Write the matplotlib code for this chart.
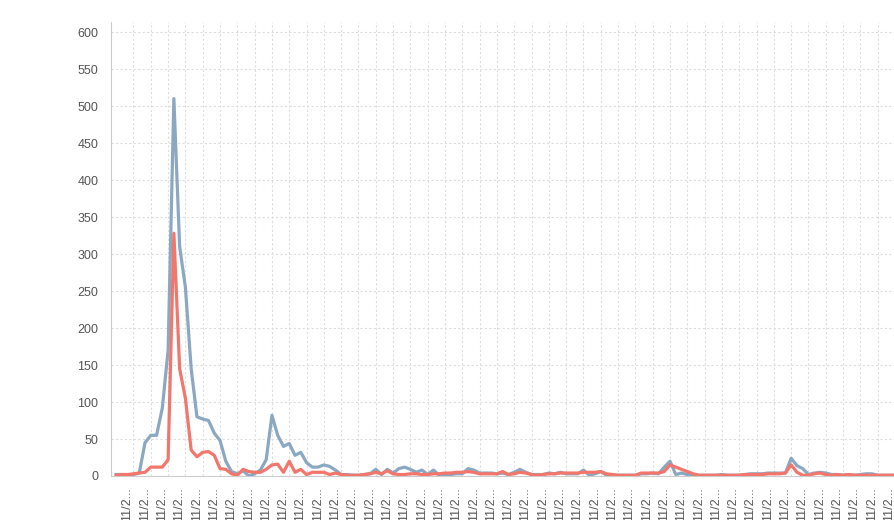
import numpy as np
import matplotlib
matplotlib.use('Agg')
import matplotlib.pyplot as plt

plt.rcParams['font.family'] = ['Liberation Sans', 'DejaVu Sans']

# values, one per point (x = point index)
blueVals = [2, 2, 1, 2, 4, 45, 55, 55, 92, 170,
            510, 310, 255, 145, 80, 77, 75, 58, 48, 20,
            6, 3, 7, 0, 3, 8, 22, 82, 55, 40,
            44, 28, 32, 18, 12, 12, 15, 13, 8, 2,
            2, 1, 1, 2, 3, 9, 2, 9, 4, 10,
            12, 9, 5, 8, 2, 8, 1, 2, 2, 3,
            3, 10, 8, 4, 4, 4, 3, 4, 2, 5,
            9, 5, 2, 2, 2, 4, 3, 5, 3, 3,
            3, 8, 1, 3, 6, 1, 1, 1, 1, 1,
            1, 3, 3, 4, 3, 12, 20, 2, 4, 2,
            1, 1, 1, 1, 1, 2, 1, 1, 1, 2,
            3, 3, 3, 4, 4, 4, 4, 24, 14, 10,
            2, 4, 5, 4, 2, 2, 1, 2, 1, 2,
            3, 3, 1, 1, 1, 1]
redVals = [1, 2, 2, 3, 4, 5, 12, 12, 12, 22,
           328, 145, 105, 35, 26, 32, 33, 28, 10, 9,
           3, 1, 9, 6, 5, 5, 9, 15, 16, 5,
           20, 5, 9, 2, 5, 5, 5, 2, 4, 2,
           1, 1, 1, 2, 3, 5, 3, 7, 3, 2,
           2, 3, 3, 2, 2, 3, 3, 4, 4, 5,
           5, 6, 5, 3, 3, 3, 3, 6, 2, 3,
           5, 4, 2, 1, 2, 3, 3, 4, 4, 4,
           4, 5, 5, 5, 6, 3, 2, 1, 1, 1,
           1, 4, 4, 4, 4, 6, 15, 12, 9, 6,
           3, 1, 1, 1, 1, 1, 1, 1, 1, 2,
           2, 2, 2, 3, 3, 3, 4, 15, 5, 1,
           1, 3, 4, 2, 1, 2, 1, 2, 1, 1,
           1, 1, 1, 1, 1, 1]
tickLabel = '11/2...'
labelEvery = 3

x = np.arange(len(blueVals))

fig = plt.figure(figsize=(8.95, 5.2), dpi=100)
ax = fig.add_axes([110.7/895, 44/520, (895-110.7)/895, (476-21.7)/520])

ax.plot(x, blueVals, color='#8ba8c2', lw=2.3, solid_joinstyle='round', zorder=3)
ax.plot(x, redVals, color='#f2766c', lw=2.3, solid_joinstyle='round', zorder=4)

ax.set_ylim(0, 614)
ax.set_xlim(-0.95, 134.0)

ax.set_yticks(np.arange(0, 601, 50))
ticks = np.arange(labelEvery, len(x), labelEvery)
ax.set_xticks(ticks)
ax.set_xticklabels([tickLabel]*len(ticks), rotation=90, ha='right')

ax.tick_params(axis='both', length=0, colors='#555555', labelsize=9)
ax.tick_params(axis='x', pad=8)
ax.tick_params(axis='y', pad=9)

ax.grid(True, color='#dddddd', lw=0.8, ls=(0, (2, 2)), zorder=0)
for s in ['top', 'right']:
    ax.spines[s].set_visible(False)
ax.spines['left'].set_color('#cccccc')
ax.spines['bottom'].set_color('#cccccc')

fig.savefig('out.png', dpi=100)
